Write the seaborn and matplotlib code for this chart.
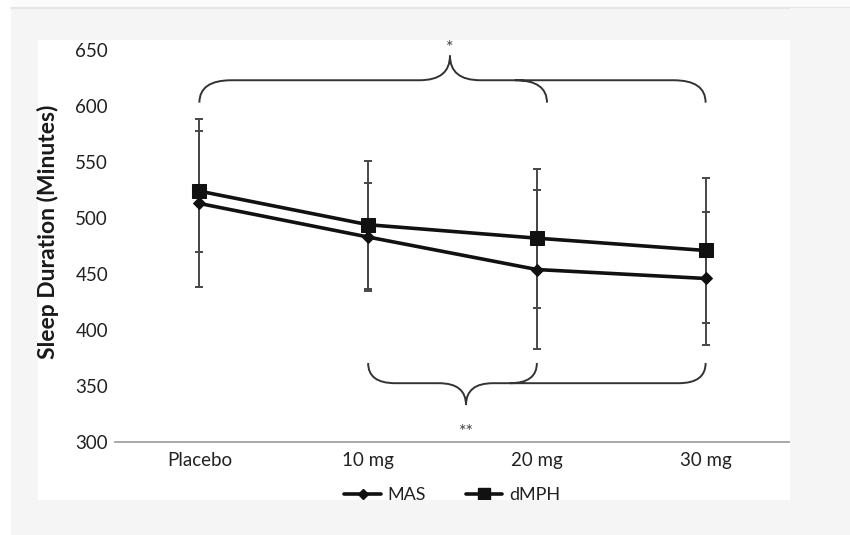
import matplotlib
matplotlib.use("Agg")
import matplotlib.pyplot as plt
from matplotlib.patches import Rectangle, PathPatch
from matplotlib.path import Path
from matplotlib.lines import Line2D
import pandas as pd
import seaborn as sns

# Mean sleep duration (minutes) and SD per dose
doses = ["Placebo", "10 mg", "20 mg", "30 mg"]
mas_mean = [513, 483, 454, 446]
mas_sd = [75, 48, 71, 59]
dmph_mean = [524, 494, 482, 471]
dmph_sd = [54, 57, 62, 65]
y_ticks = [300, 350, 400, 450, 500, 550, 600, 650]

sns.set_theme(style="white")
plt.rcParams["font.family"] = ["Lato", "DejaVu Sans"]

W, H = 850, 535
fig = plt.figure(figsize=(W / 100, H / 100), dpi=100, facecolor="#f5f5f5")

# page framing: white margin strips and the white card holding the chart
fig.add_artist(Rectangle((0, 0), 11 / W, 1, transform=fig.transFigure,
                         facecolor="white", edgecolor="none", zorder=-5))
fig.add_artist(Rectangle((11 / W, 1 - 7 / H), 1, 7 / H, transform=fig.transFigure,
                         facecolor="#fbfbfb", edgecolor="none", zorder=-5))
fig.add_artist(Line2D([11 / W, 1], [1 - 7.5 / H, 1 - 7.5 / H], transform=fig.transFigure,
                      color="#e2e2e2", lw=1.2, zorder=-4))
fig.add_artist(Rectangle((38 / W, 1 - 500 / H), (790 - 38) / W, 460 / H,
                         transform=fig.transFigure, facecolor="white",
                         edgecolor="none", zorder=-3))

ax = fig.add_axes([115 / W, 1 - 442 / H, 675 / W, 392 / H])
ax.set_facecolor("none")

xs = list(range(len(doses)))
ink = "#111111"
bar_col = "#474747"

for mean, sd, name, mk, ms in [(mas_mean, mas_sd, "MAS", "D", 6.5),
                               (dmph_mean, dmph_sd, "dMPH", "s", 9.5)]:
    df = pd.DataFrame({"x": xs, "minutes": mean})
    ax.errorbar(xs, mean, yerr=sd, fmt="none", ecolor=bar_col, elinewidth=1.4,
                capsize=3, capthick=1.4, zorder=2)
    sns.lineplot(data=df, x="x", y="minutes", ax=ax, color=ink, linewidth=2.6,
                 marker=mk, markersize=ms, markeredgecolor=ink,
                 markerfacecolor=ink, legend=False, zorder=3)

ax.set_xlim(-0.5, 3.5)
ax.set_ylim(300, 650)
ax.set_xticks(xs)
ax.set_xticklabels(doses)
ax.set_yticks(y_ticks)
ax.tick_params(axis="both", length=0, labelsize=13.5, labelcolor="#222222")
ax.tick_params(axis="y", pad=5)
ax.tick_params(axis="x", pad=7)
ax.set_xlabel("")
ax.set_ylabel("Sleep Duration (Minutes)", fontsize=16.5, fontweight="bold",
              color="#1a1a1a")
ax.yaxis.set_label_coords(-0.083, 0.537)
for side in ["top", "right", "left"]:
    ax.spines[side].set_visible(False)
ax.spines["bottom"].set_color("#9a9a9a")
ax.spines["bottom"].set_linewidth(1.2)
ax.grid(False)


def brace(x_ends, x_cusp, y_line, y_tip, y_cusp, rx, cx, arms=()):
    """Curly bracket joining x_ends, with a point at x_cusp and extra arms."""
    x0, x1 = x_ends
    verts = [(x0, y_tip), (x0, y_line), (x0 + rx, y_line),
             (x_cusp - cx, y_line), (x_cusp, y_line), (x_cusp, y_cusp),
             (x_cusp, y_cusp), (x_cusp, y_line), (x_cusp + cx, y_line),
             (x1 - rx, y_line), (x1, y_line), (x1, y_tip)]
    codes = [Path.MOVETO, Path.CURVE3, Path.CURVE3,
             Path.LINETO, Path.CURVE3, Path.CURVE3,
             Path.MOVETO, Path.CURVE3, Path.CURVE3,
             Path.LINETO, Path.CURVE3, Path.CURVE3]
    for xa in arms:
        verts += [(xa - rx, y_line), (xa, y_line), (xa, y_tip)]
        codes += [Path.MOVETO, Path.CURVE3, Path.CURVE3]
    ax.add_patch(PathPatch(Path(verts, codes), facecolor="none",
                           edgecolor="#333333", lw=1.4, clip_on=False, zorder=4))


# placebo vs 20 mg and 30 mg (upper), 10 mg vs 20 mg and 30 mg (lower)
brace((0, 3), 1.485, 623, 603, 645, 0.19, 0.18, arms=[2.06])
ax.text(1.485, 652, "*", ha="center", va="center", fontsize=13,
        color="#444444", clip_on=False)
brace((1, 3), 1.58, 352.5, 370.5, 333, 0.16, 0.16, arms=[2.0])
ax.text(1.58, 309, "**", ha="center", va="center", fontsize=13,
        color="#444444")

handles = [Line2D([], [], color=ink, lw=2.6, marker="D", markersize=5.5),
           Line2D([], [], color=ink, lw=2.6, marker="s", markersize=8)]
ax.legend(handles, ["MAS", "dMPH"], loc="center", bbox_to_anchor=(0.5, -0.135),
          ncol=2, frameon=False, fontsize=13, handlelength=2.0,
          handletextpad=0.4, columnspacing=2.2, labelcolor="#222222")

# the card edge trims the bottom of the legend
fig.add_artist(Rectangle((11 / W, 0), 1, 35 / H, transform=fig.transFigure,
                         facecolor="#f5f5f5", edgecolor="none", zorder=10))
fig.add_artist(Rectangle((790 / W, 0), 1, 1 - 8 / H, transform=fig.transFigure,
                         facecolor="#f5f5f5", edgecolor="none", zorder=10))

fig.savefig("out.png", dpi=100, facecolor=fig.get_facecolor())
